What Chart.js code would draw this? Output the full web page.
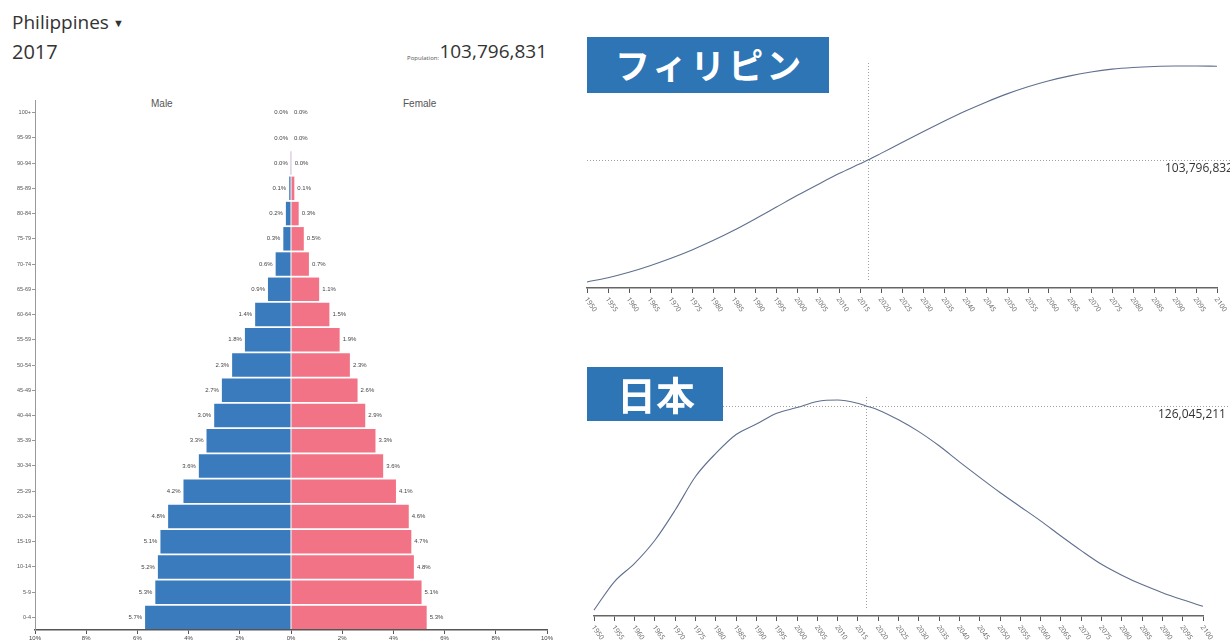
<!DOCTYPE html>
<html>
<head>
<meta charset="utf-8">
<script src="https://cdn.jsdelivr.net/npm/chart.js@4.4.1/dist/chart.umd.min.js"></script>
<style>
  body { margin: 0; width: 1230px; height: 644px; overflow: hidden; background: #fff; position: relative; font-family: 'Open Sans', sans-serif; color: #333; }
  canvas, .txt, .box { position: absolute; }
  #country { left: 12px; top: 9px; font-size: 19px; }
  #country span { font-size: 11px; vertical-align: 2px; margin-left: 4px; }
  #year { left: 12px; top: 38px; font-size: 20px; }
  #popnum { right: 683px; top: 38px; font-size: 19px; }
  #poplbl { right: 791px; top: 54px; font-size: 6px; color: #555; }
  .sex { top: 98px; font-size: 10px; color: #555; font-family: 'Liberation Sans', sans-serif; }
  .box { background: #2e75b6; color: #fff; font-family: 'Noto Sans CJK JP', sans-serif; font-weight: bold; box-sizing: border-box; z-index: 2; }
  #boxPH { left: 587px; top: 37px; width: 242px; height: 56px; line-height: 54px; font-size: 35px; padding-left: 28px; letter-spacing: 3px; }
  #boxJP { left: 587px; top: 367px; width: 136px; height: 54px; line-height: 52px; font-size: 39px; padding-left: 30px; }
</style>
</head>
<body>
<div class="txt" id="country">Philippines<span>&#9660;</span></div>
<div class="txt" id="year">2017</div>
<div class="txt" id="poplbl">Population:</div>
<div class="txt" id="popnum">103,796,831</div>
<div class="txt sex" style="left:151px">Male</div>
<div class="txt sex" style="left:403px">Female</div>
<canvas id="pyramid" width="560" height="554" style="left:0;top:90px"></canvas>
<canvas id="linePH" width="650" height="290" style="left:580px;top:40px"></canvas>
<canvas id="lineJP" width="650" height="264" style="left:580px;top:380px"></canvas>
<div class="box" id="boxPH">フィリピン</div>
<div class="box" id="boxJP">日本</div>

<script>
/* ---- Data ---- */
var ageGroups = ['100+', '95-99', '90-94', '85-89', '80-84', '75-79', '70-74', '65-69', '60-64', '55-59',
  '50-54', '45-49', '40-44', '35-39', '30-34', '25-29', '20-24', '15-19', '10-14', '5-9', '0-4'];
var maleShare = [0.0, 0.0, 0.01, 0.07, 0.2, 0.3, 0.6, 0.9, 1.4, 1.8,
  2.3, 2.7, 3.0, 3.3, 3.6, 4.2, 4.8, 5.1, 5.2, 5.3, 5.7];
var femaleShare = [0.0, 0.0, 0.03, 0.13, 0.3, 0.5, 0.7, 1.1, 1.5, 1.9,
  2.3, 2.6, 2.9, 3.3, 3.6, 4.1, 4.6, 4.7, 4.8, 5.1, 5.3];
var shareTicks = [-10, -8, -6, -4, -2, 0, 2, 4, 6, 8, 10];

var years = [1950, 1955, 1960, 1965, 1970, 1975, 1980, 1985, 1990, 1995, 2000, 2005, 2010, 2015, 2017,
  2020, 2025, 2030, 2035, 2040, 2045, 2050, 2055, 2060, 2065, 2070, 2075, 2080, 2085, 2090, 2095, 2100];
/* population, millions */
var popPhilippines = [18.4, 21.4, 25.2, 29.8, 35.0, 40.8, 47.3, 54.5, 62.4, 70.6, 78.8, 86.6, 94.2, 101.0, 103.8,
  108.3, 115.9, 123.4, 130.7, 137.7, 144.1, 149.9, 154.9, 159.1, 162.5, 165.2, 167.2, 168.4, 169.1, 169.4, 169.4, 169.2];
var popJapan = [82.8, 88.8, 92.7, 97.6, 104.0, 111.1, 116.0, 120.0, 122.2, 124.5, 125.7, 127.0, 127.3, 126.6, 126.05,
  125.2, 123.1, 120.6, 117.6, 114.2, 110.9, 107.7, 104.7, 101.7, 98.5, 95.4, 92.5, 90.2, 88.2, 86.5, 85.0, 83.6];
var currentYear = 2017;
var currentPH = 103796832;
var currentJP = 126045211;

/* ---- Pyramid ---- */
var barValues = {
  id: 'barValues',
  afterDatasetsDraw: function (chart) {
    var ctx = chart.ctx;
    ctx.save();
    ctx.font = '6px "Liberation Sans", sans-serif';
    ctx.fillStyle = '#444';
    ctx.textBaseline = 'middle';
    chart.data.datasets.forEach(function (ds, d) {
      chart.getDatasetMeta(d).data.forEach(function (bar, i) {
        var txt = Math.abs(ds.data[i]).toFixed(1) + '%';
        if (d === 0) { ctx.textAlign = 'right'; ctx.fillText(txt, bar.x - 3, bar.y); }
        else { ctx.textAlign = 'left'; ctx.fillText(txt, bar.x + 3, bar.y); }
      });
    });
    ctx.restore();
  }
};

new Chart(document.getElementById('pyramid'), {
  type: 'bar',
  data: {
    labels: ageGroups,
    datasets: [
      { label: 'Male', data: maleShare.map(function (v) { return -v; }), backgroundColor: '#3a7bbe' },
      { label: 'Female', data: femaleShare, backgroundColor: '#f17385' }
    ]
  },
  options: {
    indexAxis: 'y',
    responsive: false,
    animation: false,
    barPercentage: 1,
    categoryPercentage: 0.93,
    layout: { padding: { top: 10, right: 13, left: 0, bottom: 0 } },
    plugins: { legend: { display: false }, tooltip: { enabled: false } },
    scales: {
      x: {
        stacked: true,
        min: shareTicks[0],
        max: shareTicks[shareTicks.length - 1],
        afterBuildTicks: function (s) { s.ticks = shareTicks.map(function (v) { return { value: v }; }); },
        afterFit: function (s) { s.height = 14; },
        ticks: {
          font: { size: 6, family: 'Liberation Sans' }, color: '#444', padding: 1, maxRotation: 0,
          callback: function (v) { return Math.abs(v) + '%'; }
        },
        grid: { drawOnChartArea: false, drawTicks: true, tickLength: 4, color: '#555' },
        border: { display: true, color: '#555', width: 1.5 }
      },
      y: {
        stacked: true,
        afterFit: function (s) { s.width = 35; },
        ticks: { font: { size: 5.5, family: 'Liberation Sans' }, color: '#555', padding: 1, autoSkip: false },
        grid: { offset: false, drawOnChartArea: false, drawTicks: true, tickLength: 3, color: '#999' },
        border: { display: true, color: '#999', width: 1 }
      }
    }
  },
  plugins: [barValues]
});

/* ---- Population lines ---- */
var crosshair = {
  id: 'crosshair',
  beforeDatasetsDraw: function (chart, args, opts) {
    var xs = chart.scales.x, ys = chart.scales.y, a = chart.chartArea, ctx = chart.ctx;
    var px = Math.round(xs.getPixelForValue(opts.year)) + 0.5;
    var py = Math.round(ys.getPixelForValue(opts.value)) + 0.5;
    var bottom = ys.getPixelForValue(opts.floor);
    ctx.save();
    ctx.strokeStyle = '#a0a0a0';
    ctx.lineWidth = 1;
    ctx.setLineDash([1, 2]);
    ctx.beginPath();
    ctx.moveTo(px, a.top - 3); ctx.lineTo(px, bottom);
    ctx.moveTo(a.left, py); ctx.lineTo(chart.width, py);
    ctx.stroke();
    ctx.setLineDash([]);
    ctx.fillStyle = '#333';
    ctx.font = '12px "Open Sans", sans-serif';
    ctx.textAlign = 'left';
    ctx.textBaseline = 'middle';
    ctx.fillText(opts.label, a.right + opts.labelOffset, py + 8);
    ctx.restore();
  }
};

var yearLabels = {
  id: 'yearLabels',
  afterDraw: function (chart) {
    var xs = chart.scales.x, ctx = chart.ctx;
    ctx.save();
    ctx.fillStyle = '#666';
    ctx.font = '7px "Open Sans", sans-serif';
    ctx.textBaseline = 'middle';
    ctx.textAlign = 'left';
    xs.ticks.forEach(function (t) {
      ctx.save();
      ctx.translate(xs.getPixelForValue(t.value) - 1, xs.top + 10);
      ctx.rotate(55 * Math.PI / 180);
      ctx.fillText(String(t.value), 0, 0);
      ctx.restore();
    });
    ctx.restore();
  }
};

function makeLineChart(id, values, current, pad, axisHeight, labelOffset) {
  var lo = Math.min.apply(null, values);
  var hi = Math.max.apply(null, values);
  return new Chart(document.getElementById(id), {
    type: 'line',
    data: {
      datasets: [{
        data: years.map(function (y, i) { return { x: y, y: values[i] }; }),
        borderColor: '#5f6f8e',
        borderWidth: 1.1,
        pointRadius: 0,
        cubicInterpolationMode: 'monotone',
        clip: false,
        fill: false
      }]
    },
    options: {
      responsive: false,
      animation: false,
      layout: { padding: pad },
      plugins: {
        legend: { display: false },
        tooltip: { enabled: false },
        crosshair: {
          year: currentYear, value: current / 1e6, floor: lo,
          label: current.toLocaleString('en-US'), labelOffset: labelOffset
        }
      },
      scales: {
        x: {
          type: 'linear',
          min: years[0],
          max: years[years.length - 1],
          afterFit: function (s) { s.height = axisHeight; },
          ticks: { stepSize: 5, display: false },
          grid: { drawOnChartArea: false, drawTicks: true, tickLength: 5, color: '#555' },
          border: { display: true, color: '#666', width: 1.5 }
        },
        y: { display: false, min: lo - 0.028 * (hi - lo), max: hi }
      }
    },
    plugins: [crosshair, yearLabels]
  });
}

makeLineChart('linePH', popPhilippines, currentPH, { top: 26, left: 7, right: 13, bottom: 0 }, 42, -52);
makeLineChart('lineJP', popJapan, currentJP, { top: 20, left: 14, right: 27, bottom: 0 }, 28, -45);
</script>
</body>
</html>
